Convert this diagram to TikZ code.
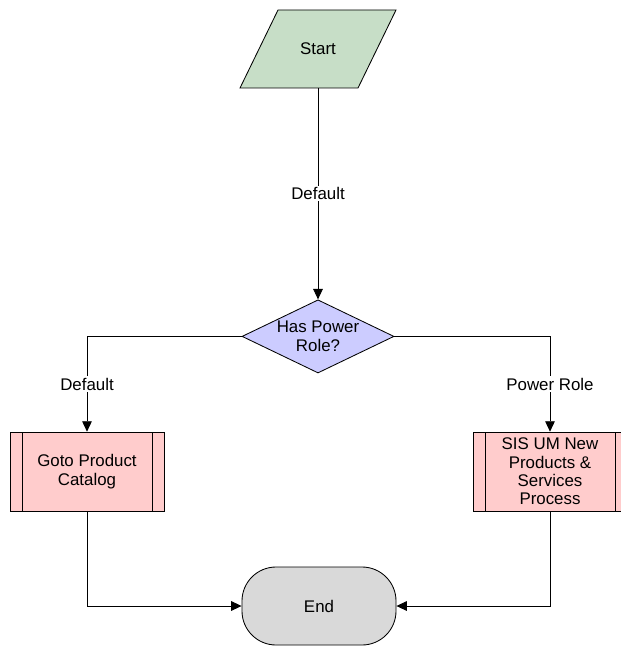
\documentclass[tikz,border=0pt]{standalone}
\usepackage{fontspec}
\setmainfont{Liberation Sans}
\usepackage{tikz}
\usetikzlibrary{arrows.meta,positioning,shapes.geometric}

\begin{document}
\begin{tikzpicture}[>={Triangle[length=2.6mm,width=2.4mm]}, line width=0.6pt,
  font=\fontsize{12}{13}\selectfont,
  startbox/.style={minimum width=2.95cm, minimum height=1.95cm, inner sep=0pt},
  dec/.style={draw, diamond, fill=blue!20, shape aspect=2.1, minimum width=3.8cm, minimum height=1.83cm, inner sep=0pt, align=center},
  proc/.style={draw, fill=red!20, minimum width=3.85cm, minimum height=1.975cm, inner sep=0pt, align=center,
    path picture={\draw ([xshift=0.3cm]path picture bounding box.north west) -- ([xshift=0.3cm]path picture bounding box.south west);
                  \draw ([xshift=-0.3cm]path picture bounding box.north east) -- ([xshift=-0.3cm]path picture bounding box.south east);}},
  term/.style={draw, rounded corners=0.85cm, fill=gray!30, minimum width=3.85cm, minimum height=1.95cm},
  lbl/.style={fill=white, inner sep=1pt}
]
\useasboundingbox (0,0) rectangle (15.5,-16.15);
% start parallelogram
\draw[fill=green!25!gray!35] (6.95,-0.25) -- (9.9,-0.25) -- (8.95,-2.2) -- (6.0,-2.2) -- cycle;
\node[startbox] (start) at (7.95,-1.225) {Start};
% shapes
\node[dec] (power) at (7.95,-8.41) {Has Power\\Role?};
\node[proc] (goto) at (2.175,-11.79) {Goto Product\\Catalog};
\node[proc] (sis) at (13.75,-11.79) {SIS UM New\\Products \&\\Services\\Process};
\node[term] (end) at (7.975,-15.15) {End};
% flows
\draw[->] (start.south) -- node[lbl]{Default} (power.north);
\draw[->] (power.west) -| node[lbl, pos=0.75]{Default} (goto.north);
\draw[->] (power.east) -| node[lbl, pos=0.75]{Power Role} (sis.north);
\draw[->] (goto.south) |- (end.west);
\draw[->] (sis.south) |- (end.east);
\end{tikzpicture}
\end{document}
